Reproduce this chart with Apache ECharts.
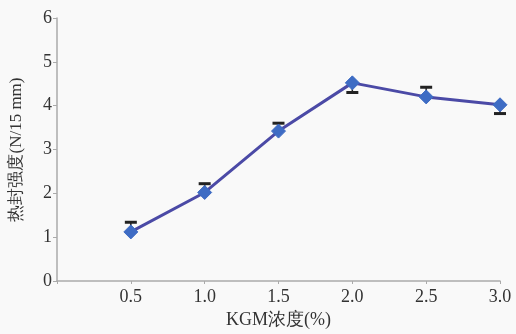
<!DOCTYPE html>
<html><head><meta charset="utf-8">
<script src="https://cdn.jsdelivr.net/npm/echarts@6/dist/echarts.min.js"></script>
<style>html,body{margin:0;padding:0;background:#f9f9f9}#c{width:516px;height:334px}</style>
</head><body><div id="c"></div>
<script>
var concentrations = [0.5, 1.0, 1.5, 2.0, 2.5, 3.0];
var strength = [1.12, 2.02, 3.42, 4.52, 4.2, 4.02];
var errUp = [0.22, 0.2, 0.18, 0, 0.22, 0];
var errDown = [0, 0, 0, 0.22, 0, 0.2];
var yTicks = [0, 1, 2, 3, 4, 5, 6];
var xTicks = [0.5, 1.0, 1.5, 2.0, 2.5, 3.0];

var chart = echarts.init(document.getElementById('c'));
var font = '"Liberation Serif","Times New Roman",serif';
var lineData = concentrations.map(function(x, i){ return [x, strength[i]]; });
var errData = concentrations.map(function(x, i){ return [x, strength[i] - errDown[i], strength[i] + errUp[i]]; });

chart.setOption({
  backgroundColor: '#f9f9f9',
  animation: false,
  grid: {left: 57, right: 16, top: 18, bottom: 49},
  xAxis: {
    type: 'value', min: 0, max: 3, interval: 0.5,
    name: 'KGM浓度(%)', nameLocation: 'middle', nameGap: 30,
    nameTextStyle: {fontFamily: font, fontSize: 18, color: '#333'},
    axisLine: {lineStyle: {color: '#aaa', width: 1.5}},
    axisTick: {show: true, length: 3, lineStyle: {color: '#aaa'}},
    splitLine: {show: false},
    axisLabel: {fontFamily: font, fontSize: 18, color: '#333', margin: 7,
      formatter: function(v){ return xTicks.indexOf(v) >= 0 ? v.toFixed(1) : ''; }}
  },
  yAxis: {
    type: 'value', min: 0, max: 6, interval: 1,
    name: '热封强度(N/15 mm)', nameLocation: 'middle', nameGap: 32,
    nameTextStyle: {fontFamily: font, fontSize: 17, color: '#333'},
    axisLine: {show: true, lineStyle: {color: '#aaa', width: 1.5}},
    axisTick: {show: true, length: 4, lineStyle: {color: '#aaa'}},
    splitLine: {show: false},
    axisLabel: {fontFamily: font, fontSize: 18, color: '#333', margin: 5,
      formatter: function(v){ return yTicks.indexOf(v) >= 0 ? String(v) : ''; }}
  },
  series: [
    {
      type: 'line', data: lineData, z: 3,
      lineStyle: {color: '#4b4aa6', width: 3},
      symbol: 'diamond', symbolSize: 14,
      itemStyle: {color: '#3e6cc4', borderColor: '#3e6cc4'}
    },
    {
      type: 'custom', z: 2,
      data: errData,
      renderItem: function(params, api){
        var x = api.value(0);
        var lo = api.coord([x, api.value(1)]);
        var hi = api.coord([x, api.value(2)]);
        var w = 6;
        var st = {stroke: '#222', lineWidth: 1.5};
        var children = [
          {type: 'line', shape: {x1: lo[0], y1: lo[1], x2: hi[0], y2: hi[1]}, style: st}
        ];
        var i = params.dataIndex;
        if (errUp[i] > 0) children.push({type: 'line', shape: {x1: hi[0]-w, y1: hi[1], x2: hi[0]+w, y2: hi[1]}, style: {stroke: '#222', lineWidth: 3}});
        if (errDown[i] > 0) children.push({type: 'line', shape: {x1: lo[0]-w, y1: lo[1], x2: lo[0]+w, y2: lo[1]}, style: {stroke: '#222', lineWidth: 3}});
        return {type: 'group', children: children};
      }
    }
  ]
});
</script></body></html>
